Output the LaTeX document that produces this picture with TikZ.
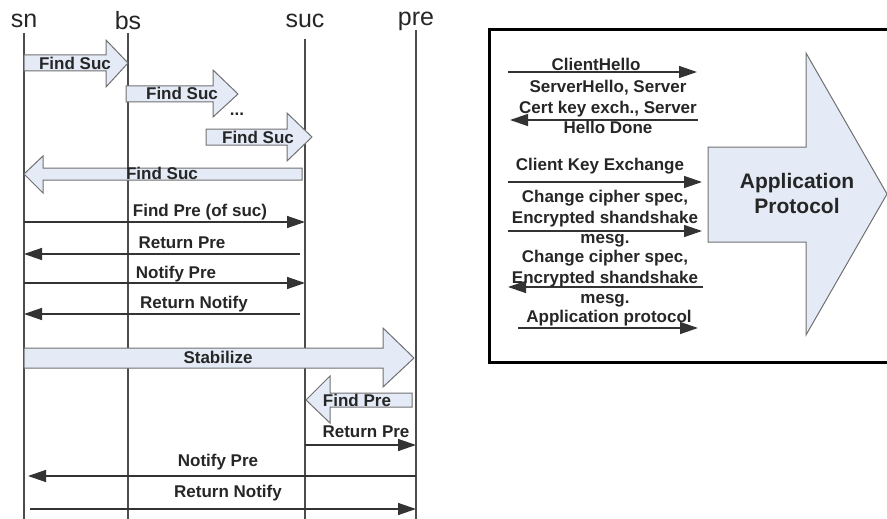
\documentclass[tikz,border=0pt]{standalone}
\usepackage{fontspec}
\setmainfont{Liberation Sans}
\usepackage{tikz}
\usetikzlibrary{arrows.meta,positioning}

\definecolor{arrowfill}{HTML}{E4EBF7}
\definecolor{arrowline}{HTML}{707070}

\begin{document}
\begin{tikzpicture}[
    x=1pt, y=-1pt,
    head/.style={font=\fontsize{25}{25}\selectfont, text=black!85, inner sep=0pt},
    lifeline/.style={draw=black!70, line width=1.3pt},
    blockarrow/.style={draw=arrowline, fill=arrowfill, line width=1pt, line join=miter},
    lbl/.style={font=\fontsize{17}{20.5}\selectfont\bfseries, text=black!85, inner sep=0pt, align=center},
    msg/.style={-{Triangle[length=18pt,width=12pt]}, draw=black!80, line width=1.4pt},
    frame/.style={draw=black, line width=3pt}
]
\useasboundingbox (0,0) rectangle (887,519);

% lifelines
\foreach \nm/\xx/\yy in {sn/24/33, bs/128/33, suc/305/39, pre/416/30} {
    \node[head] (\nm) at (\xx,21) {\nm};
    \draw[lifeline] (\xx,\yy) coordinate (\nm-top) -- (\xx,519) coordinate (\nm-bot);
}

% find successor, hop by hop
\draw[blockarrow] (24,55) -- (106,55) -- (106,40) -- (128,63) -- (106,87) -- (106,71) -- (24,71) -- cycle;
\node[lbl] (fs1) at (75,63) {Find Suc};
\draw[blockarrow] (126,86) -- (213,86) -- (213,70) -- (238,94) -- (213,117) -- (213,102) -- (126,102) -- cycle;
\node[lbl] (fs2) at (182,93) {Find Suc};
\node[lbl] (dots) at (237,114) {...};
\draw[blockarrow] (206,129) -- (287,129) -- (287,113) -- (312,137) -- (287,161) -- (287,145) -- (206,145) -- cycle;
\node[lbl] (fs3) at (258,137) {Find Suc};
\draw[blockarrow] (302,168) -- (43,168) -- (43,156) -- (24,174) -- (43,193) -- (43,180) -- (302,180) -- cycle;
\node[lbl] (fs4) at (162,173) {Find Suc};

% messages sn <-> suc
\draw[msg] (sn-bot |- 0,222) -- (suc-bot |- 0,222);
\node[lbl] (m1) at (200,212) {Find Pre (of suc)};
\draw[msg] (300,254) coordinate (r1) -- (sn-bot |- r1);
\node[lbl] (m2) at (182,243) {Return Pre};
\draw[msg] (sn-bot |- 0,283) -- (suc-bot |- 0,283);
\node[lbl] (m3) at (176,274) {Notify Pre};
\draw[msg] (300,314) coordinate (r2) -- (sn-bot |- r2);
\node[lbl] (m4) at (194,304) {Return Notify};

% stabilize
\draw[blockarrow] (24,348) -- (383,348) -- (383,328) -- (414,358) -- (383,387) -- (383,368) -- (24,368) -- cycle;
\node[lbl] (stab) at (218,357) {Stabilize};
\draw[blockarrow] (412,393) -- (330,393) -- (330,376) -- (306,400) -- (330,423) -- (330,407) -- (412,407) -- cycle;
\node[lbl] (fp) at (357,400) {Find Pre};

\draw[msg] (suc-bot |- 0,445) -- (pre-bot |- 0,445);
\node[lbl] (m5) at (366,432) {Return Pre};
\draw[msg] (pre-bot |- 0,476) -- (28,476) coordinate (l1);
\node[lbl] (m6) at (218,462) {Notify Pre};
\draw[msg] (30,509) coordinate (l2) -- (pre-bot |- l2);
\node[lbl] (m7) at (228,493) {Return Notify};

% ssl handshake box
\draw[frame] (887,30) -- (489,30) -- (489,362) -- (887,362);
\draw[blockarrow] (708,147) -- (806,147) -- (806,53) -- (887,194) -- (806,335) -- (806,242) -- (708,242) -- cycle;
\node[lbl, font=\fontsize{21}{25}\selectfont\bfseries] (app) at (797,193) {Application\\Protocol};

\draw[msg] (508,72) coordinate (h1) -- (697,72) coordinate (h2);
\node[lbl] (ch) at (596,64) {ClientHello};
\draw[msg] (698,120) coordinate (h3) -- (510,120) coordinate (h4);
\node[lbl] (sh) at (608,107) {ServerHello, Server\\Cert key exch., Server\\Hello Done};
\draw[msg] (508,182) coordinate (h5) -- (702,182) coordinate (h6);
\node[lbl] (cke) at (600,166) {Client Key Exchange};
\draw[msg] (508,231) coordinate (h7) -- (702,231) coordinate (h8);
\node[lbl] (cc1) at (605,219) {Change cipher spec,\\Encrypted shandshake\\mesg.};
\draw[msg] (703,287) coordinate (h9) -- (508,287) coordinate (h10);
\node[lbl] (cc2) at (605,279) {Change cipher spec,\\Encrypted shandshake\\mesg.};
\draw[msg] (518,328) coordinate (h11) -- (698,328) coordinate (h12);
\node[lbl] (ap) at (609,318) {Application protocol};

\end{tikzpicture}
\end{document}
